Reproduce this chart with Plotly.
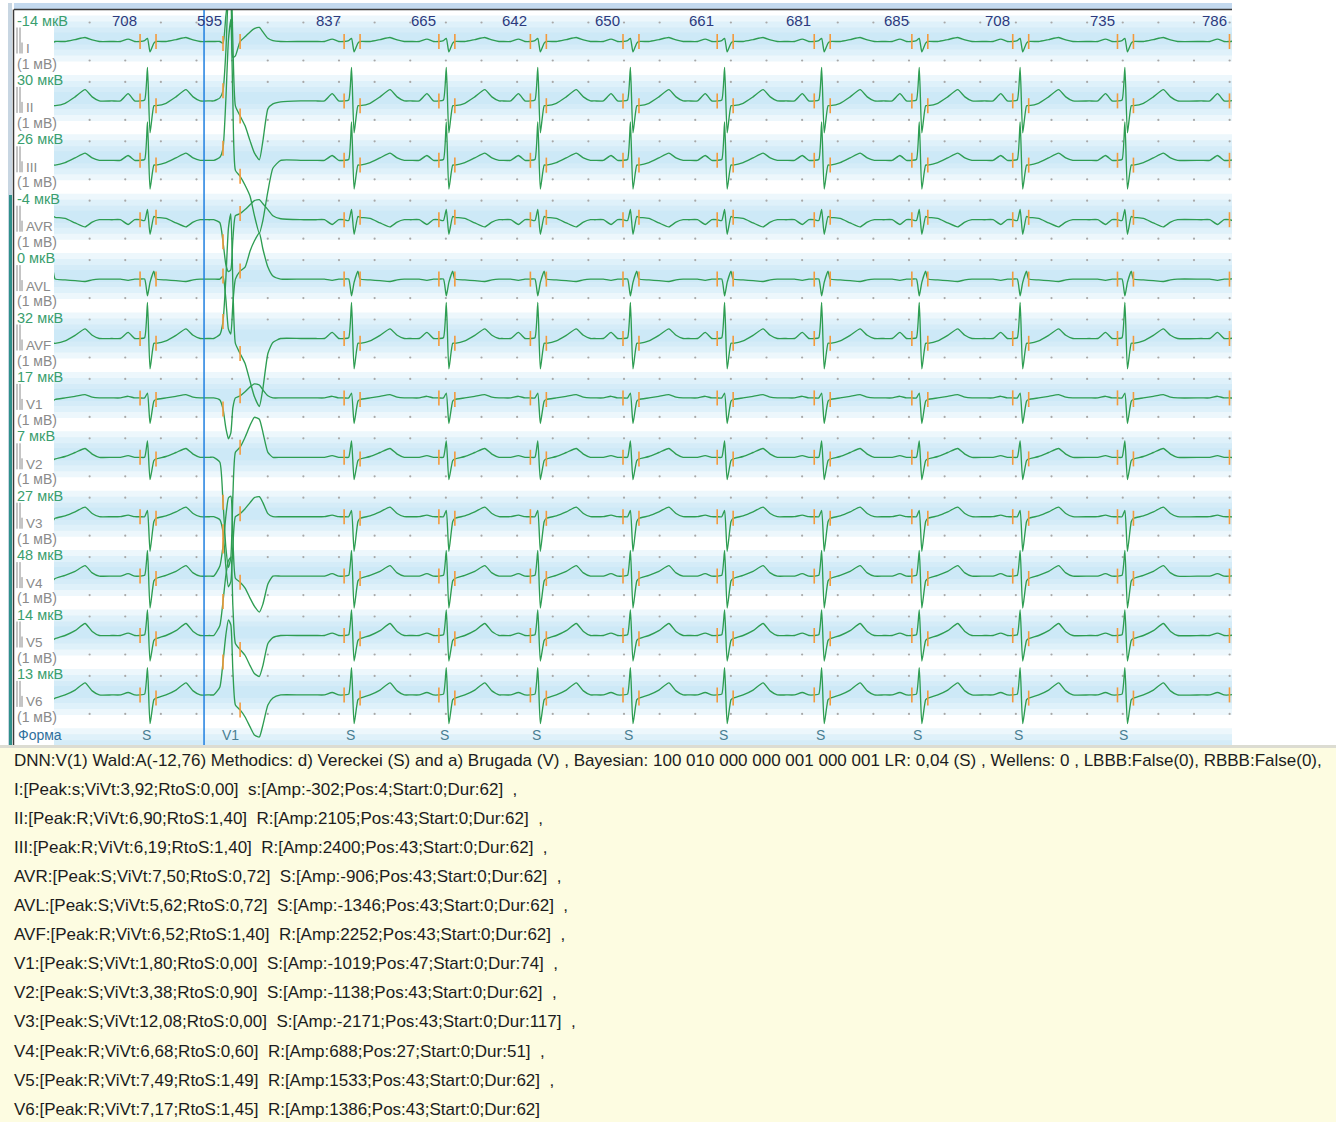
import plotly.graph_objects as go

W, H = 1336, 1122

# ---------------- data ----------------
rr_ms = [708, 595, 837, 665, 642, 650, 661, 681, 685, 708, 735, 786]
first_beat_ms = -62
beat_kind = ["N", "N", "V", "N", "N", "N", "N", "N", "N", "N", "N", "N", "N"]
beat_forms = ["", "S", "V1", "S", "S", "S", "S", "S", "S", "S", "S", "S", ""]
cursor_ms = 1053

leads = ["I", "II", "III", "AVR", "AVL", "AVF", "V1", "V2", "V3", "V4", "V5", "V6"]
offsets_uv = [-14, 30, 26, -4, 0, 32, 17, 7, 27, 48, 14, 13]

# normal (supraventricular) beat template, ms relative to beat, amplitudes mV
normal_t = [-240, -180, -126, -80, -42, -10, 10, 28, 55, 70, 140, 210, 280, 330, 380]
normal_mv = {
    "I":   [0, 0, 0.15, 0, 0, 0.05, 0.20, -0.65, -0.10, 0.00, 0.00, 0.12, 0.25, 0.10, 0],
    "II":  [0, 0, 0.45, 0, 0, 0.06, 2.10, -2.00, -0.30, -0.30, -0.15, 0.25, 0.70, 0.25, 0],
    "III": [0, 0, 0.30, 0, 0, 0.05, 2.40, -1.80, -0.30, -0.30, -0.15, 0.15, 0.45, 0.15, 0],
    "AVR": [0, 0, -0.30, 0, 0, -0.05, 0.65, -0.91, 0.20, 0.15, 0.08, -0.20, -0.45, -0.15, 0],
    "AVL": [0, 0, -0.08, 0, 0, 0.00, -1.05, -0.20, 0.50, 0.00, -0.05, -0.10, -0.15, -0.05, 0],
    "AVF": [0, 0, 0.38, 0, 0, 0.05, 2.25, -1.90, -0.30, -0.30, -0.15, 0.20, 0.60, 0.20, 0],
    "V1":  [0, 0, 0.10, 0, 0, 0.00, 0.30, -1.60, -0.20, -0.10, 0.00, 0.10, 0.20, 0.05, 0],
    "V2":  [0, 0, 0.10, 0, 0, 0.00, 1.02, -1.40, -0.20, -0.10, 0.05, 0.30, 0.55, 0.20, 0],
    "V3":  [0, 0, 0.10, 0, 0, 0.00, 0.40, -2.17, -0.30, -0.10, 0.05, 0.30, 0.60, 0.20, 0],
    "V4":  [0, 0, 0.15, 0, 0, 0.05, 1.60, -2.00, -0.30, -0.15, 0.05, 0.30, 0.65, 0.20, 0],
    "V5":  [0, 0, 0.15, 0, 0, 0.05, 1.60, -1.60, -0.30, -0.20, 0.00, 0.30, 0.75, 0.25, 0],
    "V6":  [0, 0, 0.15, 0, 0, 0.05, 1.70, -1.80, -0.30, -0.20, 0.00, 0.30, 0.75, 0.25, 0],
}
normal_marks_ms = [-42, 70]

# ventricular beat template
pvc_t = [-150, -120, -77, -55, -35, -17, 0, 14, 32, 65, 100, 135, 165, 200, 225, 260, 295, 350, 490, 560]
pvc_mv = {
    "I":   [0, 0, 0, -0.12, 1.6, 2.8, 2.5, -1.0, -0.9, 0.00, 0.30, 0.60, 0.80, 0.88, 0.60, 0.20, 0.06, 0, 0, 0],
    "II":  [0, 0, 0.19, 0.63, 3.1, 6.9, 8.1, 3.75, -0.31, -0.94, -1.56, -2.50, -3.25, -3.69, -2.50, -0.50, -0.19, -0.06, 0, 0],
    "III": [0, 0, 0.19, 0.75, 3.8, 7.5, 8.8, 3.75, -0.63, -1.00, -1.56, -2.25, -3.44, -4.56, -3.75, -1.94, -0.50, 0, 0, 0],
    "AVR": [0, 0, -0.19, -1.38, -2.81, -3.25, -3.13, -1.25, 0.25, 0.38, 0.63, 0.94, 1.19, 1.25, 1.00, 0.63, 0.25, 0.06, 0, 0],
    "AVL": [0, 0, 0, 0.19, -1.25, -3.13, -3.44, -1.56, 0, 0.50, 0.75, 1.75, 2.38, 2.88, 1.88, 0.75, 0.19, 0, 0, 0],
    "AVF": [0, 0, 0.25, 1.06, 3.75, 6.9, 7.8, 3.44, -0.31, -0.94, -1.56, -2.69, -3.63, -4.25, -3.13, -0.94, -0.25, 0, 0, 0],
    "V1":  [0, 0, -0.13, -0.69, -1.88, -2.56, -2.19, -0.63, 0, 0.13, 0.38, 0.69, 0.88, 0.81, 0.50, 0.13, 0, 0, 0, 0],
    "V2":  [0, 0, -0.31, -2.81, -5.63, -6.88, -6.25, -2.50, 0.31, 0.63, 1.25, 2.00, 2.50, 2.38, 1.56, 0.31, 0, 0, 0, 0],
    "V3":  [0, 0, -0.19, -0.94, -3.13, -4.38, -4.06, -1.88, 0, 0.19, 0.50, 0.88, 1.19, 1.25, 0.88, 0.19, 0, 0, 0, 0],
    "V4":  [0, 0, 0.63, 1.88, 3.75, 4.88, 5.00, 2.50, -0.13, -0.38, -0.75, -1.38, -1.88, -2.25, -1.75, -0.50, 0, 0, 0, 0],
    "V5":  [0, 0, 0.63, 2.13, 3.75, 4.69, 4.88, 1.88, -0.50, -0.88, -1.25, -1.88, -2.38, -2.56, -1.88, -0.50, -0.13, 0, 0, 0],
    "V6":  [0, 0, 0.50, 2.06, 3.75, 4.69, 4.38, 1.56, -0.63, -0.94, -1.38, -2.00, -2.50, -2.63, -1.88, -0.63, -0.19, 0, 0, 0],
}
pvc_marks_ms = [-55, 65]

info_lines = [
    "DNN:V(1) Wald:A(-12,76) Methodics: d) Vereckei (S) and a) Brugada (V) , Bayesian: 100 010 000 000 001 000 001 LR: 0,04 (S) , Wellens: 0 , LBBB:False(0), RBBB:False(0),",
    "I:[Peak:s;ViVt:3,92;RtoS:0,00]  s:[Amp:-302;Pos:4;Start:0;Dur:62]  ,",
    "II:[Peak:R;ViVt:6,90;RtoS:1,40]  R:[Amp:2105;Pos:43;Start:0;Dur:62]  ,",
    "III:[Peak:R;ViVt:6,19;RtoS:1,40]  R:[Amp:2400;Pos:43;Start:0;Dur:62]  ,",
    "AVR:[Peak:S;ViVt:7,50;RtoS:0,72]  S:[Amp:-906;Pos:43;Start:0;Dur:62]  ,",
    "AVL:[Peak:S;ViVt:5,62;RtoS:0,72]  S:[Amp:-1346;Pos:43;Start:0;Dur:62]  ,",
    "AVF:[Peak:R;ViVt:6,52;RtoS:1,40]  R:[Amp:2252;Pos:43;Start:0;Dur:62]  ,",
    "V1:[Peak:S;ViVt:1,80;RtoS:0,00]  S:[Amp:-1019;Pos:47;Start:0;Dur:74]  ,",
    "V2:[Peak:S;ViVt:3,38;RtoS:0,90]  S:[Amp:-1138;Pos:43;Start:0;Dur:62]  ,",
    "V3:[Peak:S;ViVt:12,08;RtoS:0,00]  S:[Amp:-2171;Pos:43;Start:0;Dur:117]  ,",
    "V4:[Peak:R;ViVt:6,68;RtoS:0,60]  R:[Amp:688;Pos:27;Start:0;Dur:51]  ,",
    "V5:[Peak:R;ViVt:7,49;RtoS:1,49]  R:[Amp:1533;Pos:43;Start:0;Dur:62]  ,",
    "V6:[Peak:R;ViVt:7,17;RtoS:1,45]  R:[Amp:1386;Pos:43;Start:0;Dur:62]",
]

# ---------------- layout geometry ----------------
PANEL_L, PANEL_R, PANEL_T, PANEL_B = 14, 1232, 10, 745
TRACE_L = 54
PX_PER_MS = 0.1425
T_MAX = (PANEL_R - TRACE_L) / PX_PER_MS
ROW0, ROW_STEP = 41.5, 59.4
PX_PER_MV = 16.0
GREEN = "#2e9d52"
ORANGE = "#f39a3c"
LAB_FONT = "Liberation Sans, Arial, sans-serif"


def xp(px):
    return px / W


def yp(py):
    return 1 - py / H


beats = [first_beat_ms]
for r in rr_ms:
    beats.append(beats[-1] + r)

fig = go.Figure()

baselines = [ROW0 + ROW_STEP * k for k in range(len(leads))]

shapes = []
# text panel
shapes.append(dict(type="rect", xref="paper", yref="paper", x0=0, x1=1, y0=0, y1=yp(PANEL_B),
                   fillcolor="#fdfce1", line=dict(width=0), layer="below"))
shapes.append(dict(type="rect", xref="paper", yref="paper", x0=0, x1=1, y0=yp(748), y1=yp(PANEL_B),
                   fillcolor="#dcdcd2", line=dict(width=0), layer="below"))
# stripes
for bl in baselines + [ROW0 + ROW_STEP * 12]:
    for hh in (46, 34, 22, 12):
        c = bl - 3
        y0 = max(c - hh / 2, PANEL_T)
        y1 = min(c + hh / 2, PANEL_B)
        if y1 <= y0:
            continue
        shapes.append(dict(type="rect", xref="paper", yref="paper", x0=xp(TRACE_L), x1=xp(PANEL_R),
                           y0=yp(y1), y1=yp(y0), fillcolor="rgba(185,222,244,0.25)",
                           line=dict(width=0), layer="below"))
# borders
shapes.append(dict(type="rect", xref="paper", yref="paper", x0=xp(PANEL_L), x1=xp(PANEL_R),
                   y0=yp(9), y1=yp(3), fillcolor="#c3d9ef", line=dict(width=0)))
shapes.append(dict(type="line", xref="paper", yref="paper", x0=xp(PANEL_L), x1=xp(PANEL_R),
                   y0=yp(9.5), y1=yp(9.5), line=dict(color="#3a3a3a", width=1.5)))
shapes.append(dict(type="rect", xref="paper", yref="paper", x0=xp(8), x1=xp(12),
                   y0=yp(PANEL_B), y1=yp(3), fillcolor="#c8d6e2", line=dict(width=0)))
shapes.append(dict(type="rect", xref="paper", yref="paper", x0=xp(9), x1=xp(12),
                   y0=yp(PANEL_B), y1=yp(195), fillcolor="#2f8f8a", line=dict(width=0)))
shapes.append(dict(type="line", xref="paper", yref="paper", x0=xp(13.5), x1=xp(13.5),
                   y0=yp(PANEL_B), y1=yp(9.5), line=dict(color="#3a3a3a", width=1.5)))
# calibration marks
for bl in baselines:
    for xx, ya in ((17, bl - 14), (20, bl - 14), (22, bl + 1)):
        shapes.append(dict(type="line", xref="paper", yref="paper", x0=xp(xx), x1=xp(xx),
                           y0=yp(bl + 12), y1=yp(ya), line=dict(color="#8a8a8a", width=1)))
# cursor
shapes.append(dict(type="line", xref="x", yref="paper", x0=cursor_ms, x1=cursor_ms,
                   y0=yp(PANEL_B), y1=yp(PANEL_T), line=dict(color="#1f7fe0", width=1.5)))

# grid dots
gx, gy = [], []
t = 250
while t < T_MAX:
    for bl in baselines:
        for dy in (-19, 19):
            gx.append(t)
            gy.append(bl + dy)
    t += 250
fig.add_trace(go.Scatter(x=gx, y=gy, mode="markers", hoverinfo="skip",
                         marker=dict(size=2.2, color="#a8a8a8")))

# ECG traces
mk_x, mk_y = [], []
for li, lead in enumerate(leads):
    bl = baselines[li]
    xs, ys = [], []
    for bi, bt in enumerate(beats):
        if beat_kind[bi] == "V":
            tt, vv, marks = pvc_t, pvc_mv[lead], pvc_marks_ms
        else:
            tt, vv, marks = normal_t, normal_mv[lead], normal_marks_ms
        for a, v in zip(tt, vv):
            xs.append(bt + a)
            ys.append(bl - v * PX_PER_MV)
        if bi == 0:
            continue
        for m in marks:
            v = vv[tt.index(m)]
            yc = bl - v * PX_PER_MV
            mk_x += [bt + m, bt + m, None]
            mk_y += [yc - 7.5, yc + 7.5, None]
    fig.add_trace(go.Scatter(x=xs, y=ys, mode="lines", hoverinfo="skip",
                             line=dict(color=GREEN, width=1.35, shape="spline", smoothing=0.5)))

fig.add_trace(go.Scatter(x=mk_x, y=mk_y, mode="lines", hoverinfo="skip",
                         line=dict(color=ORANGE, width=1.6)))

ann = []
# RR labels (top)
for bi in range(1, len(beats)):
    ann.append(dict(x=beats[bi] - 150, y=20, xref="x", yref="y", yanchor="middle",
                    text=str(rr_ms[bi - 1]),
                    showarrow=False, font=dict(family=LAB_FONT, size=15, color="#2c3a7e")))
# beat form labels (bottom)
for bi, bt in enumerate(beats):
    if beat_forms[bi] and 0 < bt < T_MAX:
        ann.append(dict(x=bt, y=735, xref="x", yref="y", yanchor="middle", text=beat_forms[bi],
                        showarrow=False, font=dict(family=LAB_FONT, size=14, color="#4a7e92")))
ann.append(dict(x=xp(16), y=yp(735), xref="paper", yref="paper", text="Форма", xanchor="left",
                yanchor="middle", showarrow=False,
                font=dict(family=LAB_FONT, size=14, color="#2f6f9c")))
# lead labels
for li, lead in enumerate(leads):
    bl = baselines[li]
    ann.append(dict(x=xp(15), y=yp(bl - 21), xref="paper", yref="paper", xanchor="left",
                    yanchor="middle", text=f"{offsets_uv[li]} мкВ", showarrow=False,
                    font=dict(family=LAB_FONT, size=14.5, color="#3a9e6e")))
    ann.append(dict(x=xp(24), y=yp(bl + 7), xref="paper", yref="paper", xanchor="left",
                    yanchor="middle", text=lead, showarrow=False,
                    font=dict(family=LAB_FONT, size=13.5, color="#8a8a8a")))
    ann.append(dict(x=xp(15), y=yp(bl + 22), xref="paper", yref="paper", xanchor="left",
                    yanchor="middle", text="(1 мВ)", showarrow=False,
                    font=dict(family=LAB_FONT, size=14, color="#8a8a8a")))
# info text
for i, line in enumerate(info_lines):
    ann.append(dict(x=xp(12), y=yp(760 + 29.1 * i), xref="paper", yref="paper", xanchor="left",
                    yanchor="middle", text=line.replace("  ", "\u00a0\u00a0"), showarrow=False,
                    font=dict(family="Liberation Sans, Arial, sans-serif", size=17, color="#1c1c1c")))

fig.update_layout(
    width=W, height=H, margin=dict(l=0, r=0, t=0, b=0),
    paper_bgcolor="white", plot_bgcolor="rgba(0,0,0,0)",
    showlegend=False, shapes=shapes, annotations=ann,
    xaxis=dict(domain=[xp(TRACE_L), xp(PANEL_R)], range=[0, T_MAX], visible=False, fixedrange=True),
    yaxis=dict(domain=[yp(PANEL_B), yp(PANEL_T)], range=[PANEL_B, PANEL_T], visible=False, fixedrange=True),
)

fig.write_html("out.html", config={"displayModeBar": False},
               post_script="document.body.style.margin='0';document.body.style.padding='0';")
